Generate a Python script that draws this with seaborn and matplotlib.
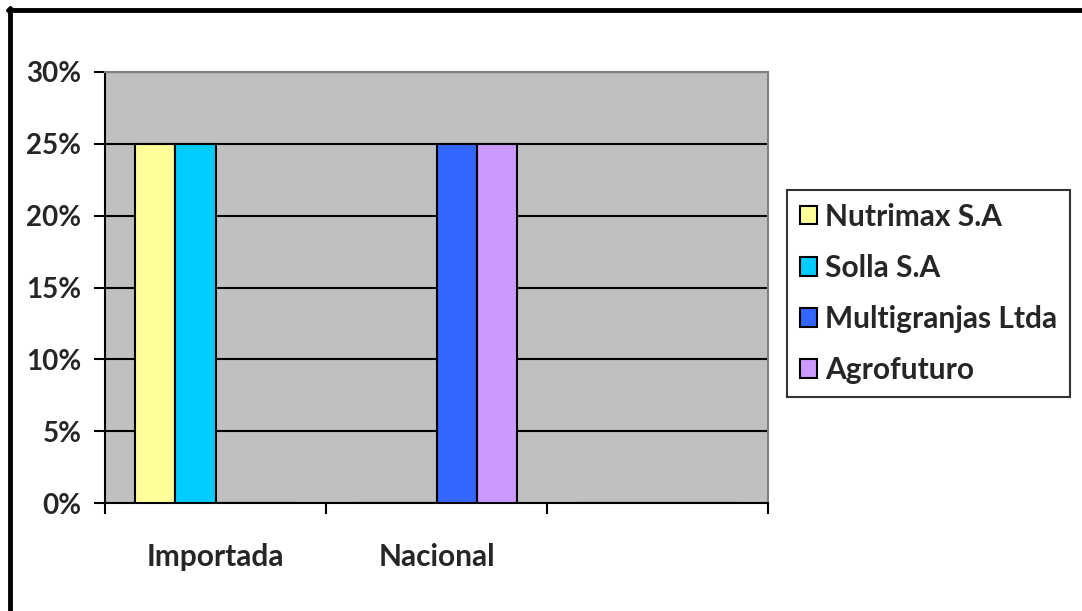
import pandas as pd
import matplotlib
matplotlib.use("Agg")
import matplotlib.pyplot as plt
import matplotlib.ticker as mticker
from matplotlib.lines import Line2D
import seaborn as sns

# data
categories = ['Importada', 'Nacional', '']
empresas = ['Nutrimax S.A', 'Solla S.A', 'Multigranjas Ltda', 'Agrofuturo']
nutrimax = [0.25, 0.0, 0.0]
solla = [0.25, 0.0, 0.0]
multigranjas = [0.0, 0.25, 0.0]
agrofuturo = [0.0, 0.25, 0.0]
colores = ['#FFFF99', '#00CCFF', '#3366FF', '#CC99FF']

rows = []
for emp, vals in zip(empresas, [nutrimax, solla, multigranjas, agrofuturo]):
    for cat, v in zip(categories, vals):
        rows.append({'tipo': cat, 'empresa': emp, 'valor': v})
df = pd.DataFrame(rows)

sns.set_style('white')
plt.rcParams['font.family'] = ['Lato', 'DejaVu Sans']
plt.rcParams['font.weight'] = 'bold'

fig = plt.figure(figsize=(10.82, 6.11), dpi=100)
ax = fig.add_axes([105 / 1082, 108 / 611, 663 / 1082, 431 / 611])
ax.set_facecolor('#C0C0C0')

sns.barplot(data=df, x='tipo', y='valor', hue='empresa', order=categories,
            hue_order=empresas, palette=colores, saturation=1, width=0.724, gap=0,
            edgecolor='black', linewidth=1.5, ax=ax, legend=True, zorder=3)

ax.set_xlim(-0.5, 2.5)
ax.set_ylim(0, 0.30)
ax.set_yticks([0, 0.05, 0.10, 0.15, 0.20, 0.25, 0.30])
ax.yaxis.set_major_formatter(mticker.PercentFormatter(1.0, decimals=0))
ax.grid(axis='y', color='black', linewidth=1.5, zorder=1)
ax.set_axisbelow(True)

# x ticks at slot borders, labels in the middle
ax.set_xticks([-0.5, 0.5, 1.5, 2.5])
ax.set_xticklabels([])
ax.set_xticks([0, 1, 2], minor=True)
ax.set_xticklabels(categories, minor=True)
ax.tick_params(axis='x', which='minor', length=0, pad=29, labelsize=21.5)
ax.tick_params(axis='x', which='major', length=8, width=1.5, color='black', direction='out')
ax.tick_params(axis='y', length=8, width=1.5, color='black', direction='out', pad=9, labelsize=20)
ax.xaxis.set_ticks_position('bottom')
ax.yaxis.set_ticks_position('left')
for lab in ax.get_xticklabels(minor=True) + ax.get_yticklabels():
    lab.set_fontweight('bold')

ax.set_xlabel('')
ax.set_ylabel('')
for side in ['left', 'bottom']:
    ax.spines[side].set_color('black')
    ax.spines[side].set_linewidth(1.5)
for side in ['top', 'right']:
    ax.spines[side].set_color('#808080')
    ax.spines[side].set_linewidth(1.5)

handles, labels = ax.get_legend_handles_labels()
leg = ax.legend(handles, labels, loc='upper left', bbox_to_anchor=(787 / 1082, 1 - 190 / 611),
                bbox_transform=fig.transFigure, frameon=True, fancybox=False,
                handlelength=0.6, handleheight=0.6, handletextpad=0.25,
                labelspacing=0.78, borderpad=0.42, borderaxespad=0,
                prop={'size': 21.5, 'weight': 'bold'})
leg.get_frame().set_edgecolor('black')
leg.get_frame().set_linewidth(1.5)

# outer chart border (top and left visible)
fig.add_artist(Line2D([8 / 1082, 1], [1 - 10 / 611, 1 - 10 / 611], color='black', linewidth=3.5,
                      transform=fig.transFigure))
fig.add_artist(Line2D([10 / 1082, 10 / 1082], [0, 1 - 8 / 611], color='black', linewidth=3.5,
                      transform=fig.transFigure))

fig.savefig('out.png', dpi=100)
